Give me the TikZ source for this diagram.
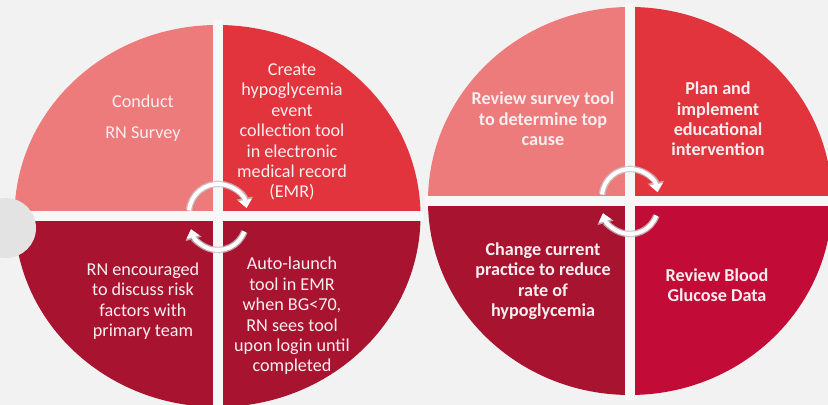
\documentclass[tikz,border=0pt]{standalone}
\usepackage{fontspec}
\setmainfont{Carlito}
\usetikzlibrary{arrows.meta}
\definecolor{bgGrey}{HTML}{F2F2F2}
\definecolor{gapWhite}{HTML}{F7F7F7}
\definecolor{lightRed}{HTML}{EE7B7C}
\definecolor{midRed}{HTML}{E1343C}
\definecolor{darkRed}{HTML}{A81330}
\definecolor{deepRed}{HTML}{C20B36}
\definecolor{txtWhite}{HTML}{F8EEF0}

\begin{document}
\begin{tikzpicture}[
    x=0.03cm, y=-0.03cm,
    every node/.style={align=center, text=txtWhite, font=\fontsize{15.5}{17.4}\selectfont},
    boldtext/.style={font=\fontsize{15.5}{17.4}\selectfont\bfseries},
    gapline/.style={draw=gapWhite, line width=0.3cm},
    cycleback/.style={draw=gray!45, opacity=0.8, line width=0.2cm, -{Triangle[length=0.3cm, width=0.48cm]}},
    cyclefront/.style={draw=white, line width=0.12cm, -{Triangle[length=0.24cm, width=0.38cm]}}
]
    \fill[bgGrey] (0,0) rectangle (828,405);
    \useasboundingbox (0,0) rectangle (828,405);

    % Circles
    \coordinate (C1) at (217.5,216);
    \coordinate (C2) at (630,201);
    \foreach \ang/\col in {0/darkRed, 90/darkRed, 180/lightRed, 270/midRed}
        \fill[\col] (C1) -- ++(\ang:203 and 191)
            arc[start angle=\ang, delta angle=90, x radius=203, y radius=191] -- cycle;
    \foreach \ang/\col in {0/deepRed, 90/darkRed, 180/lightRed, 270/midRed}
        \fill[\col] (C2) -- ++(\ang:202 and 194)
            arc[start angle=\ang, delta angle=90, x radius=202, y radius=194] -- cycle;

    % Gaps
    \draw[gapline] (217.5,20) -- (217.5,410);
    \draw[gapline] (10,216) -- (424,216);
    \draw[gapline] (630,3) -- (630,400);
    \draw[gapline] (425,201) -- (835,201);
    \fill[gray!22] (6,228) circle[radius=30];

    % Cycle arrows
    \draw[cycleback] (218,213) ++(185:29) arc[start angle=185, end angle=350, radius=29];
    \draw[cyclefront] (218,213) ++(185:29) arc[start angle=185, end angle=350, radius=29];
    \draw[cycleback] (218,222) ++(20:28) arc[start angle=20, end angle=165, radius=28];
    \draw[cyclefront] (218,222) ++(20:28) arc[start angle=20, end angle=165, radius=28];
    \draw[cycleback] (630,197) ++(185:28) arc[start angle=185, end angle=350, radius=28];
    \draw[cyclefront] (630,197) ++(185:28) arc[start angle=185, end angle=350, radius=28];
    \draw[cycleback] (630,206) ++(20:28) arc[start angle=20, end angle=165, radius=28];
    \draw[cyclefront] (630,206) ++(20:28) arc[start angle=20, end angle=165, radius=28];

    % Nodes
    \node (survey) at (143,118) {Conduct\\[9pt] RN Survey};
    \node (collectTool) at (292,132) {Create\\ hypoglycemia\\ event\\ collection tool\\ in electronic\\ medical record\\ (EMR)};
    \node (encourage) at (143,301) {RN encouraged\\ to discuss risk\\ factors with\\ primary team};
    \node (autoLaunch) at (292,316) {Auto-launch\\ tool in EMR\\ when BG<70,\\ RN sees tool\\ upon login until\\ completed};
    \node[boldtext] (reviewTool) at (543,119) {Review survey tool\\ to determine top\\ cause};
    \node[boldtext] (planEdu) at (718,119) {Plan and\\ implement\\ educational\\ intervention};
    \node[boldtext] (changePractice) at (543,281) {Change current\\ practice to reduce\\ rate of\\ hypoglycemia};
    \node[boldtext] (reviewBG) at (717,285) {Review Blood\\ Glucose Data};
\end{tikzpicture}
\end{document}
